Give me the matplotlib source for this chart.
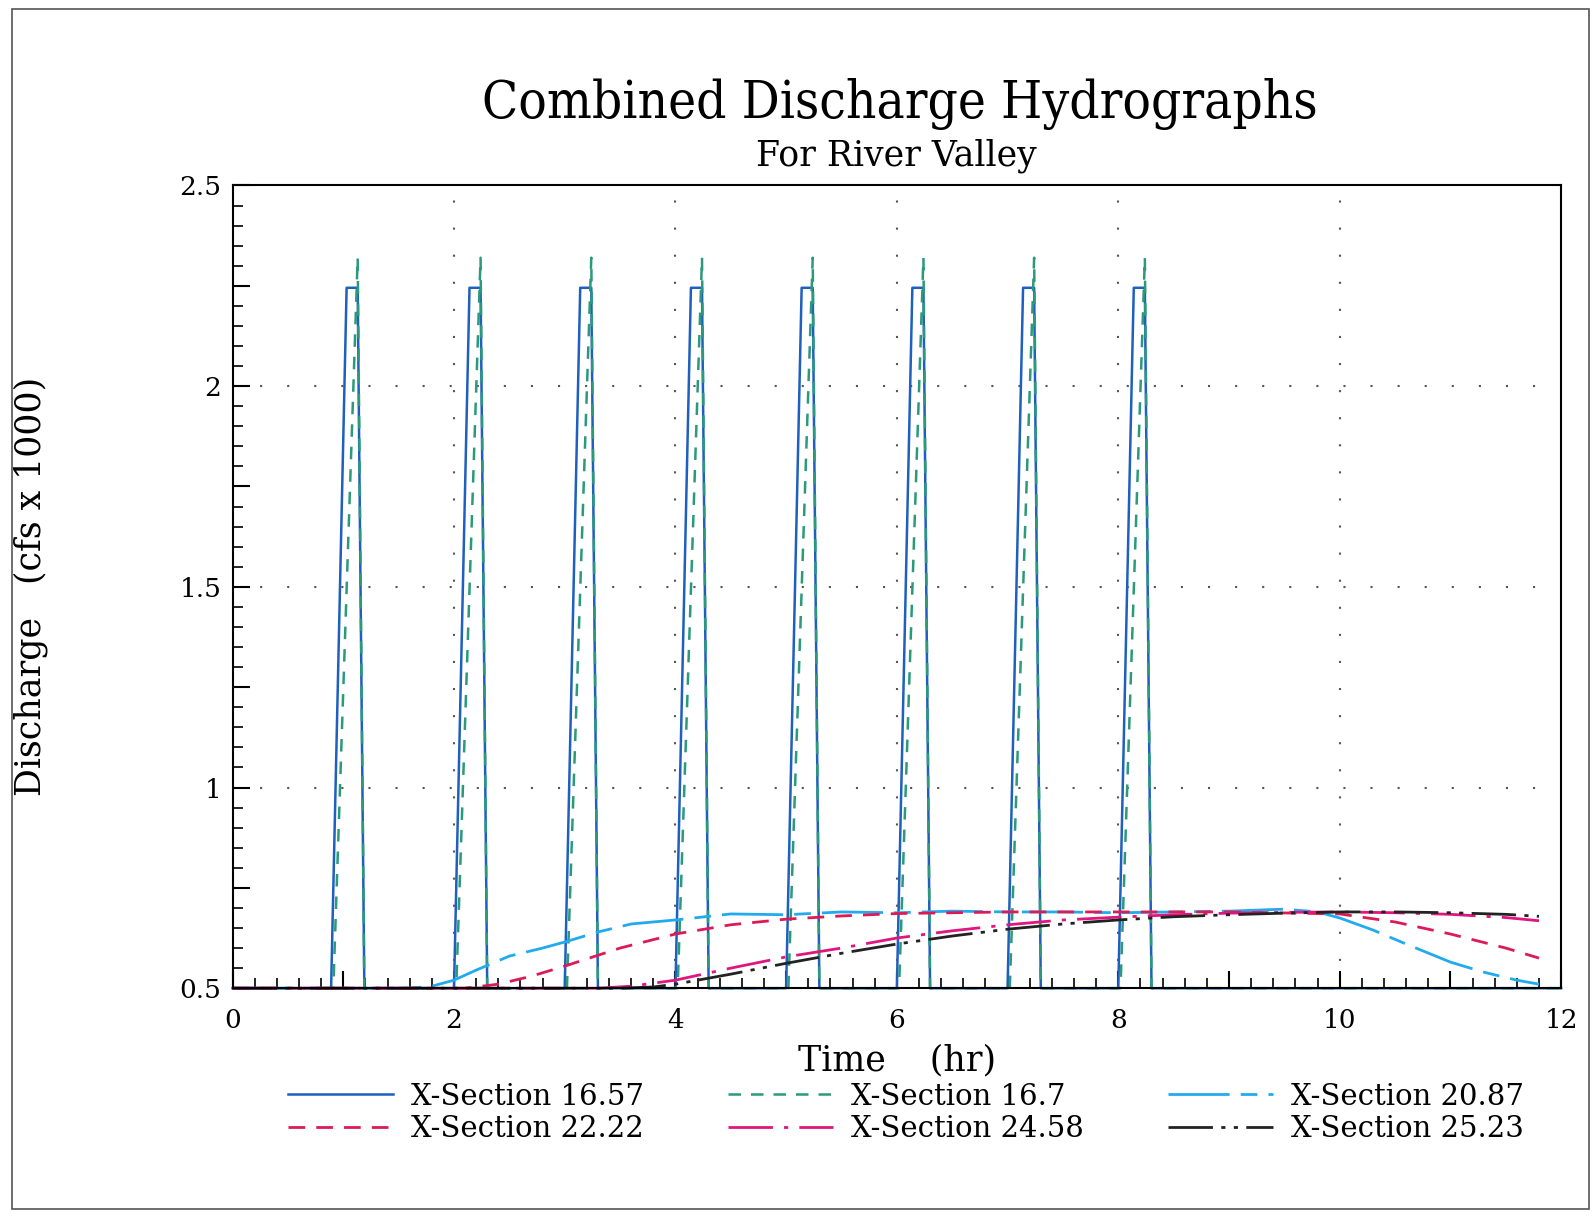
import numpy as np
import matplotlib.pyplot as plt
from matplotlib.patches import Rectangle

# spike hydrographs (X-Section 16.57 / 16.7)
t_1657 = [0, 0.89, 1.03, 1.13, 1.19,
          2.0, 2.14, 2.24, 2.3,
          3.0, 3.14, 3.24, 3.3,
          4.0, 4.14, 4.24, 4.3,
          5.0, 5.14, 5.24, 5.3,
          6.0, 6.14, 6.24, 6.3,
          7.0, 7.14, 7.24, 7.3,
          8.0, 8.14, 8.24, 8.3, 12]
q_1657 = [0.5, 0.5, 2.245, 2.245, 0.5,
          0.5, 2.245, 2.245, 0.5,
          0.5, 2.245, 2.245, 0.5,
          0.5, 2.245, 2.245, 0.5,
          0.5, 2.245, 2.245, 0.5,
          0.5, 2.245, 2.245, 0.5,
          0.5, 2.245, 2.245, 0.5,
          0.5, 2.245, 2.245, 0.5, 0.5]
t_167 = [0, 0.91, 1.13, 1.19,
         2.02, 2.24, 2.3,
         3.02, 3.24, 3.3,
         4.02, 4.24, 4.3,
         5.02, 5.24, 5.3,
         6.02, 6.24, 6.3,
         7.02, 7.24, 7.3,
         8.02, 8.24, 8.3, 12]
q_167 = [0.5, 0.5, 2.32, 0.5,
         0.5, 2.32, 0.5,
         0.5, 2.32, 0.5,
         0.5, 2.32, 0.5,
         0.5, 2.32, 0.5,
         0.5, 2.32, 0.5,
         0.5, 2.32, 0.5,
         0.5, 2.32, 0.5, 0.5]

# routed hydrographs further downstream
t_2087 = [0, 1.6, 1.8, 2.0, 2.2, 2.5, 2.8, 3.0, 3.3, 3.6, 4.0, 4.5, 5.0, 5.5, 6.0, 6.5,
          7.0, 7.5, 8.0, 8.5, 9.0, 9.5, 9.8, 10.0, 10.3, 10.6, 11.0, 11.3, 11.6, 11.8]
q_2087 = [0.5, 0.5, 0.505, 0.52, 0.545, 0.58, 0.6, 0.615, 0.64, 0.66, 0.67, 0.685, 0.683, 0.69, 0.688, 0.692,
          0.69, 0.69, 0.688, 0.69, 0.692, 0.697, 0.69, 0.675, 0.645, 0.61, 0.565, 0.54, 0.52, 0.51]
t_2222 = [0, 2.1, 2.4, 2.7, 3.0, 3.5, 4.0, 4.5, 5.0, 5.5, 6.0, 7.0, 8.0, 9.0, 10.0, 10.5,
          11.0, 11.5, 11.8]
q_2222 = [0.5, 0.5, 0.51, 0.53, 0.555, 0.6, 0.635, 0.658, 0.672, 0.68, 0.686, 0.69, 0.69, 0.69, 0.685, 0.665,
          0.635, 0.6, 0.575]
t_2458 = [0, 3.3, 3.6, 4.0, 4.5, 5.0, 5.5, 6.0, 6.5, 7.0, 7.5, 8.0, 8.5, 9.0, 9.5, 10.0,
          10.5, 11.0, 11.5, 11.8]
q_2458 = [0.5, 0.5, 0.505, 0.52, 0.55, 0.578, 0.6, 0.625, 0.643, 0.658, 0.67, 0.677, 0.683, 0.687, 0.689, 0.69,
          0.688, 0.684, 0.676, 0.668]
t_2523 = [0, 3.5, 3.8, 4.0, 4.5, 5.0, 5.5, 6.0, 6.5, 7.0, 7.5, 8.0, 8.5, 9.0, 9.5, 10.0,
          10.5, 11.0, 11.5, 11.8]
q_2523 = [0.5, 0.5, 0.503, 0.51, 0.535, 0.562, 0.587, 0.61, 0.63, 0.647, 0.66, 0.67, 0.678, 0.683, 0.687, 0.69,
          0.69, 0.688, 0.684, 0.679]

plt.rcParams['font.family'] = ['DejaVu Serif']

fig = plt.figure(figsize=(15.93, 12.20), dpi=100)
ax = fig.add_axes([0.146, 0.19, 0.834, 0.658])

# outer scan frame
fig.patches.append(Rectangle((0.0077, 0.009), 0.99, 0.984, transform=fig.transFigure,
                             fill=False, edgecolor='#555555', linewidth=1.2))

ax.plot(t_1657, q_1657, color='#1f5fbf', lw=1.8, label='X-Section 16.57', clip_on=False)
ax.plot(t_167, q_167, color='#2a9a7a', lw=1.8, ls=(0, (5, 4)), label='X-Section 16.7', clip_on=False)
ax.plot(t_2087, q_2087, color='#22aaee', lw=2, ls=(0, (22, 4, 6, 4)), label='X-Section 20.87', clip_on=False)
ax.plot(t_2222, q_2222, color='#dd1a55', lw=2, ls=(0, (6, 4)), label='X-Section 22.22', clip_on=False)
ax.plot(t_2458, q_2458, color='#e0157f', lw=2, ls=(0, (16, 4, 1.5, 4)), label='X-Section 24.58', clip_on=False)
ax.plot(t_2523, q_2523, color='#222222', lw=2, ls=(0, (16, 3, 1.5, 3, 1.5, 3)), label='X-Section 25.23', clip_on=False)

ax.set_xlim(0, 12)
ax.set_ylim(0.5, 2.5)
ax.set_xticks(np.arange(0, 13, 1))
ax.set_xticklabels([str(i) if i % 2 == 0 else '' for i in range(13)])
ax.set_xticks(np.arange(0, 12.01, 0.2), minor=True)
ax.set_yticks(np.arange(0.5, 2.51, 0.25))
ax.set_yticklabels(['0.5', '', '1', '', '1.5', '', '2', '', '2.5'])
ax.set_yticks(np.arange(0.5, 2.51, 0.05), minor=True)
ax.tick_params(which='major', direction='in', length=12, width=1.5, labelsize=19, pad=14)
ax.tick_params(which='minor', direction='in', length=7, width=1.2)
ax.tick_params(axis='y', pad=8)

# dotted grid
for gx in [2, 4, 6, 8, 10]:
    ax.axvline(gx, color='#555555', lw=1.5, ls=(0, (1, 12)), zorder=0)
for gy in [1, 1.5, 2]:
    ax.axhline(gy, color='#555555', lw=1.5, ls=(0, (1, 12)), zorder=0)

for s in ax.spines.values():
    s.set_linewidth(1.5)

ax.set_xlabel('Time    (hr)', fontsize=25, labelpad=8)
ax.set_ylabel('Discharge   (cfs x 1000)', fontsize=25, labelpad=95)

fig.text(0.565, 0.915, 'Combined Discharge Hydrographs', ha='center', va='center',
         fontsize=38, fontstretch='condensed')
fig.text(0.563, 0.872, 'For River Valley', ha='center', va='center', fontsize=25)

h, l = ax.get_legend_handles_labels()
order = [0, 3, 1, 4, 2, 5]
ax.legend([h[i] for i in order], [l[i] for i in order], ncol=3, frameon=False,
          loc='upper left', bbox_to_anchor=(0.022, -0.085), fontsize=21,
          handlelength=3.6, columnspacing=2.9, labelspacing=0.15, handletextpad=0.6)

plt.savefig('out.png', dpi=100)
